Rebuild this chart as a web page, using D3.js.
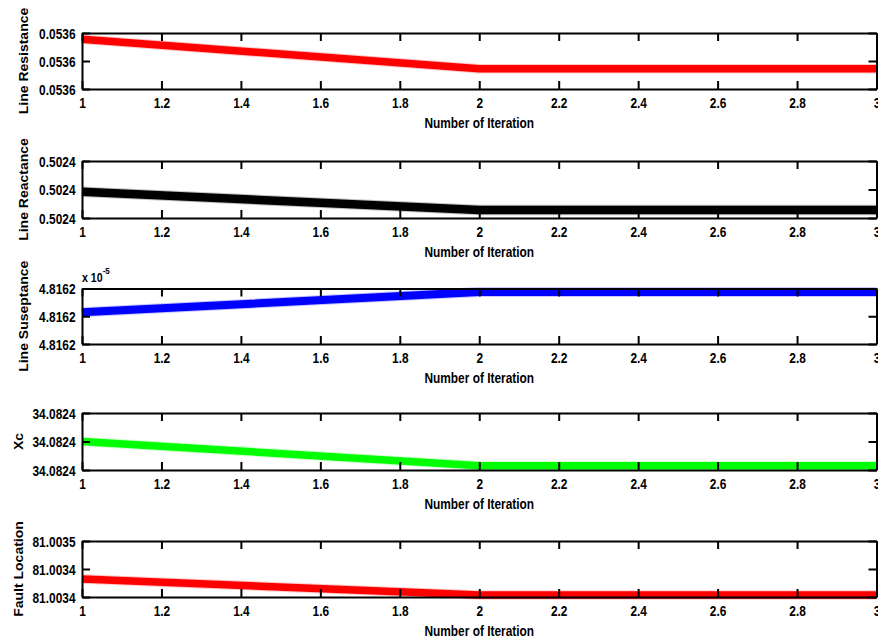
<!DOCTYPE html>
<html>
<head>
<meta charset="utf-8">
<script src="https://cdn.jsdelivr.net/npm/d3@7"></script>
<style>
  html, body { margin: 0; padding: 0; background: #ffffff; }
  svg { display: block; }
</style>
</head>
<body>
<svg id="chart" width="878" height="637"></svg>
<script>
// ---------------- data ----------------
const iterations = [1, 2, 3];
const xTicks = [1, 1.2, 1.4, 1.6, 1.8, 2, 2.2, 2.4, 2.6, 2.8, 3];
const xLabel = "Number of Iteration";

const resistance    = [0.0536039, 0.0535986, 0.0535986];
const reactance     = [0.5023969, 0.5023712, 0.5023712];
const susceptance   = [4.8162057e-5, 4.8162350e-5, 4.8162350e-5];
const xc            = [34.0824000, 34.0823660, 34.0823660];
const faultLocation = [81.0034057, 81.0033829, 81.0033829];

const resistanceTicks    = [0.053595, 0.053600, 0.053605];
const reactanceTicks     = [0.502360, 0.502400, 0.502440];
const susceptanceTicks   = [4.81616e-5, 4.81620e-5, 4.81624e-5];
const xcTicks            = [34.08236, 34.08240, 34.08244];
const faultLocationTicks = [81.00338, 81.00342, 81.00346];

const panelNames  = ["Line Resistance", "Line Reactance", "Line Suseptance", "Xc", "Fault Location"];
const panelValues = [resistance, reactance, susceptance, xc, faultLocation];
const panelTicks  = [resistanceTicks, reactanceTicks, susceptanceTicks, xcTicks, faultLocationTicks];
const panelScale  = [1, 1, 1e-5, 1, 1];   // displayed multiplier (x 10^-5)

// ---------------- layout / style ----------------
const W = 878, H = 637;
const left = 82, right = 876.5;
const panelTop    = [33, 161, 288.5, 413, 541];
const panelHeight = [56, 57, 55.5, 57, 56];
const lineColor   = ["#ff0000", "#000000", "#0000ff", "#00ff00", "#ff0000"];
const haloColor   = ["#ff9090", "#888888", "#9090ff", "#a0ffa0", "#ff9090"];
const lineWidth   = [7.5, 8.5, 8, 7.5, 7.5];
const yLabelX     = [28, 28, 28, 23, 23];
const SX = 0.85;  // horizontal squeeze of the original raster
const FONT = "'Liberation Sans', Arial, Helvetica, sans-serif";

const svg = d3.select("#chart");
svg.append("rect").attr("width", W).attr("height", H).attr("fill", "#fff");

const x = d3.scaleLinear().domain([1, 3]).range([left, right]);
const fmtX = d => String(+d.toFixed(1));

panelNames.forEach((name, i) => {
  const top = panelTop[i], h = panelHeight[i], bottom = top + h;
  const ticks = panelTicks[i];
  const y = d3.scaleLinear().domain(d3.extent(ticks)).range([bottom, top]);
  const fmtY = d => (d / panelScale[i]).toFixed(4);
  const g = svg.append("g");

  // data line (halo + core)
  const line = d3.line().x((d, k) => x(iterations[k])).y(d => y(d));
  g.append("path").datum(panelValues[i])
    .attr("d", line).attr("fill", "none")
    .attr("stroke", haloColor[i]).attr("stroke-width", lineWidth[i] + 2)
    .attr("stroke-opacity", 0.5).attr("stroke-linejoin", "miter");
  g.append("path").datum(panelValues[i])
    .attr("d", line).attr("fill", "none")
    .attr("stroke", lineColor[i]).attr("stroke-width", lineWidth[i])
    .attr("stroke-linejoin", "miter");

  // axes (inside ticks, boxed)
  const styleAxis = sel => {
    sel.selectAll("path.domain").attr("stroke", "#000").attr("stroke-width", 2);
    sel.selectAll(".tick line").attr("stroke", "#000").attr("stroke-width", 2);
  };
  const gb = g.append("g").attr("transform", `translate(0,${bottom})`)
    .call(d3.axisBottom(x).tickValues(xTicks).tickFormat(fmtX).tickSize(-8).tickSizeOuter(0));
  const gt = g.append("g").attr("transform", `translate(0,${top})`)
    .call(d3.axisTop(x).tickValues(xTicks).tickFormat("").tickSize(-8).tickSizeOuter(0));
  const gl = g.append("g").attr("transform", `translate(${left},0)`)
    .call(d3.axisLeft(y).tickValues(ticks).tickFormat(fmtY).tickSize(-8).tickSizeOuter(0));
  const gr = g.append("g").attr("transform", `translate(${right},0)`)
    .call(d3.axisRight(y).tickValues(ticks).tickFormat("").tickSize(-8).tickSizeOuter(0));
  [gb, gt, gl, gr].forEach(styleAxis);

  gb.selectAll(".tick text")
    .attr("x", 0).attr("y", 0).attr("dy", null)
    .attr("transform", `translate(0,19) scale(${SX},1)`)
    .attr("font-family", FONT).attr("font-size", 14).attr("font-weight", "bold")
    .attr("fill", "#000").attr("text-anchor", "middle");
  gl.selectAll(".tick text")
    .attr("x", 0).attr("y", 0).attr("dy", "0.36em")
    .attr("transform", `translate(-6.5,0) scale(${SX},1)`)
    .attr("font-family", FONT).attr("font-size", 14).attr("font-weight", "bold")
    .attr("fill", "#000").attr("text-anchor", "end");
  [gb, gt, gl, gr].forEach(a => a.attr("font-family", null).attr("font-size", null));

  // x label
  g.append("text")
    .attr("transform", `translate(${(left + right) / 2},${bottom + 39}) scale(${SX},1)`)
    .attr("text-anchor", "middle")
    .attr("font-family", FONT).attr("font-size", 14).attr("font-weight", "bold")
    .attr("fill", "#000").text(xLabel);

  // y label
  g.append("text")
    .attr("transform", `translate(${yLabelX[i]},${top + h / 2}) scale(${SX},1) rotate(-90)`)
    .attr("text-anchor", "middle")
    .attr("font-family", FONT).attr("font-size", 14).attr("font-weight", "bold")
    .attr("fill", "#000").text(name);

  // exponent multiplier
  if (panelScale[i] !== 1) {
    const t = g.append("text")
      .attr("transform", `translate(${left},${top - 6.5}) scale(${SX},1)`)
      .attr("font-family", FONT).attr("font-size", 12.5).attr("font-weight", "bold")
      .attr("fill", "#000");
    t.append("tspan").text("x 10");
    t.append("tspan").attr("dy", -8).attr("font-size", 9.5)
      .text(String(Math.round(Math.log10(panelScale[i]))).replace("-", "-"));
  }
});
</script>
</body>
</html>
